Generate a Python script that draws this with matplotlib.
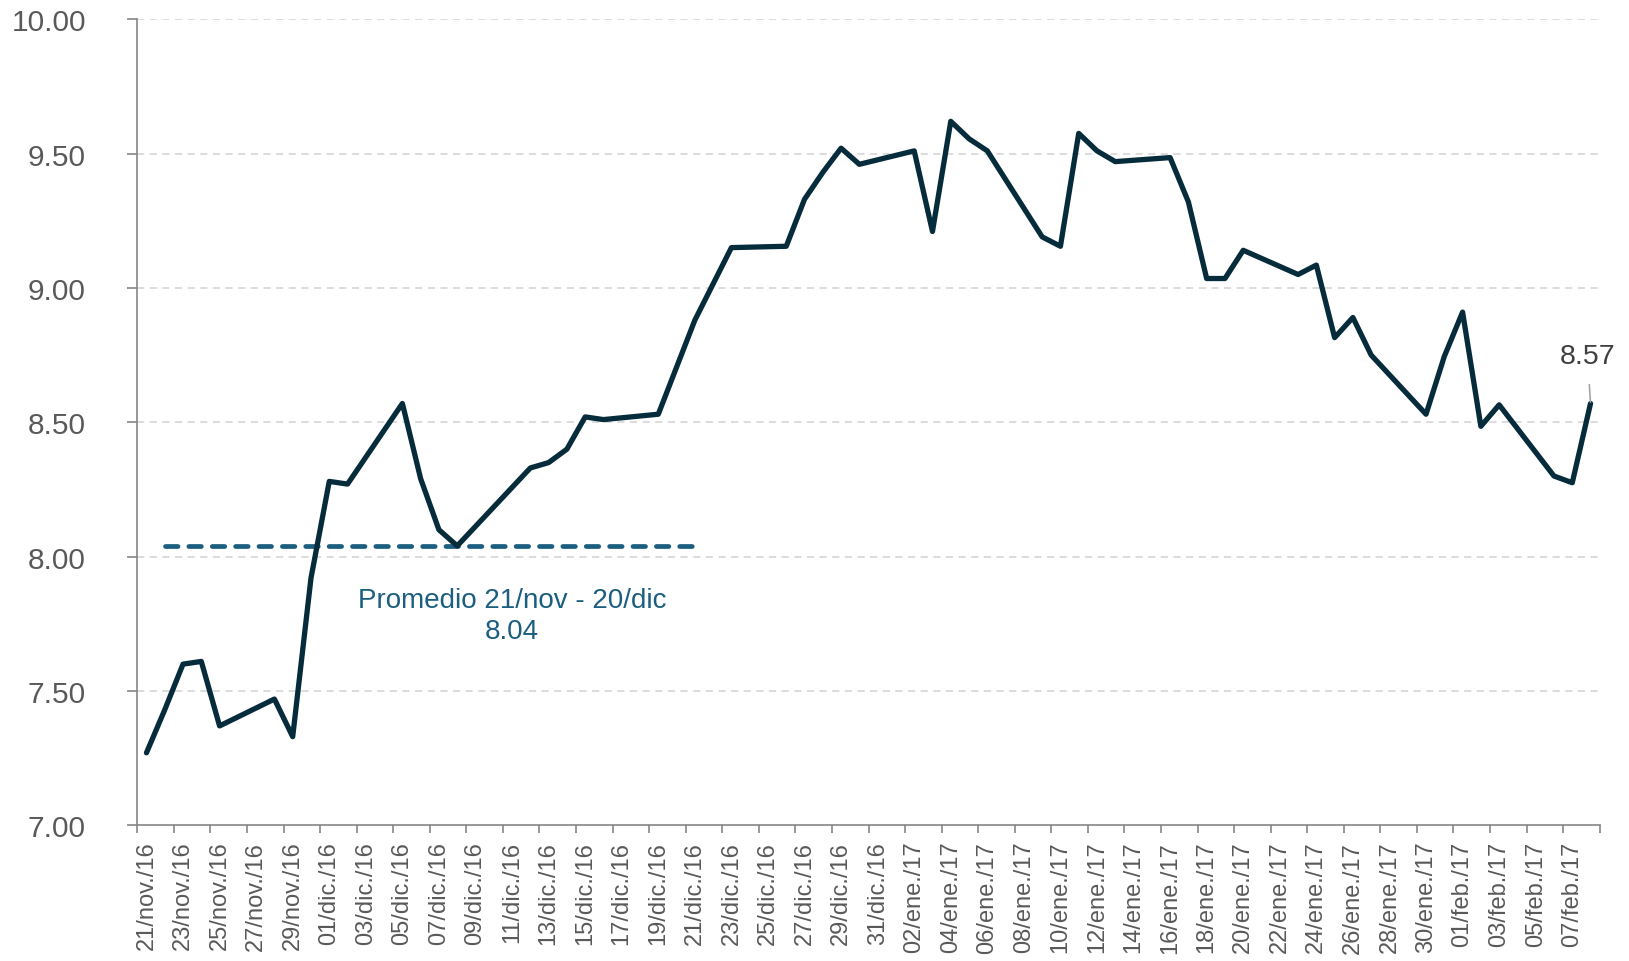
import matplotlib
matplotlib.use("Agg")
import matplotlib.pyplot as plt
import matplotlib.dates as mdates
import numpy as np
import pandas as pd

plt.rcParams['font.family'] = ['Liberation Sans', 'DejaVu Sans']

# Tipo de cambio diario (solo dias habiles)
fechas = ["2016-11-21", "2016-11-22", "2016-11-23", "2016-11-24", "2016-11-25",
          "2016-11-28", "2016-11-29", "2016-11-30", "2016-12-01", "2016-12-02",
          "2016-12-05", "2016-12-06", "2016-12-07", "2016-12-08",
          "2016-12-12", "2016-12-13", "2016-12-14", "2016-12-15", "2016-12-16",
          "2016-12-19", "2016-12-21", "2016-12-23",
          "2016-12-26", "2016-12-27", "2016-12-28", "2016-12-29", "2016-12-30",
          "2017-01-02", "2017-01-03", "2017-01-04", "2017-01-05", "2017-01-06",
          "2017-01-09", "2017-01-10", "2017-01-11", "2017-01-12", "2017-01-13",
          "2017-01-16", "2017-01-17", "2017-01-18", "2017-01-19", "2017-01-20",
          "2017-01-23", "2017-01-24", "2017-01-25", "2017-01-26", "2017-01-27",
          "2017-01-30", "2017-01-31", "2017-02-01", "2017-02-02", "2017-02-03",
          "2017-02-06", "2017-02-07", "2017-02-08"]
valores = [7.27, 7.43, 7.60, 7.61, 7.37,
           7.47, 7.33, 7.92, 8.28, 8.27,
           8.57, 8.29, 8.10, 8.04,
           8.33, 8.35, 8.40, 8.52, 8.51,
           8.53, 8.88, 9.15,
           9.155, 9.33, 9.43, 9.52, 9.46,
           9.51, 9.21, 9.62, 9.555, 9.51,
           9.19, 9.155, 9.575, 9.51, 9.47,
           9.485, 9.32, 9.035, 9.035, 9.14,
           9.05, 9.085, 8.815, 8.89, 8.75,
           8.53, 8.745, 8.91, 8.485, 8.565,
           8.30, 8.275, 8.57]

# promedio del periodo 21/nov - 20/dic
promedio_fechas = ["2016-11-22", "2016-12-21"]
promedio_valor = 8.04
promedio_texto = "Promedio 21/nov - 20/dic\n8.04"

inicio = "2016-11-21"
fin = "2017-02-08"
meses = {11: "nov", 12: "dic", 1: "ene", 2: "feb"}

y_ticks = [7.00, 7.50, 8.00, 8.50, 9.00, 9.50, 10.00]

fechas = pd.to_datetime(fechas)
promedio_fechas = pd.to_datetime(promedio_fechas)

fig = plt.figure(figsize=(16.29, 9.62), dpi=100)
ax = fig.add_axes([0.0843, 0.1410, 0.8977, 0.8380])

# grid
for v in y_ticks[1:]:
    ax.axhline(v, color="#D9D9D9", lw=1.3, ls=(0, (4, 3)), zorder=0)

ax.plot(fechas, valores, color="#062B3B", lw=3.8, solid_joinstyle="round",
        solid_capstyle="round", zorder=3)

ax.plot(promedio_fechas, [promedio_valor] * 2, color="#1B5E80", lw=3.4,
        dashes=(2.65, 2.3), dash_capstyle="round", zorder=2)

# ejes
d0 = mdates.date2num(pd.Timestamp(inicio)) - 0.5
d1 = mdates.date2num(pd.Timestamp(fin)) + 0.5
ax.set_xlim(d0, d1)
ax.set_ylim(7.0, 10.0)

ax.set_xticks(np.arange(d0, d1 + 0.01, 2))
ax.set_xticklabels([])
dias = pd.date_range(inicio, fin, freq="2D")
ax.set_xticks(mdates.date2num(dias), minor=True)
ax.set_xticklabels([f"{d.day:02d}/{meses[d.month]}./{d.year % 100}" for d in dias],
                   minor=True, rotation=90, fontsize=17, color="#595959")
ax.tick_params(axis="x", which="major", length=6, width=1.2, color="#868686",
               direction="out")
ax.tick_params(axis="x", which="minor", length=0, pad=11)

ax.set_yticks(y_ticks)
ax.set_yticklabels([f"{v:.2f}" for v in y_ticks], fontsize=21.5, color="#595959")
ax.tick_params(axis="y", length=7, width=1.2, color="#868686", pad=30)

for s in ["top", "right"]:
    ax.spines[s].set_visible(False)
for s in ["left", "bottom"]:
    ax.spines[s].set_color("#868686")
    ax.spines[s].set_linewidth(1.2)

# anotaciones
ax.text(pd.Timestamp("2016-12-11"), 7.78, promedio_texto, ha="center", va="center",
        fontsize=20, color="#1B5E80", linespacing=1.25)

ultimo = fechas[-1]
ax.annotate(f"{valores[-1]:.2f}", xy=(ultimo, valores[-1]),
            xytext=(ultimo - pd.Timedelta(hours=4), 8.745),
            ha="center", va="center", fontsize=20.5, color="#404040",
            arrowprops=dict(arrowstyle="-", color="#A6A6A6", lw=1.2,
                            shrinkA=9, shrinkB=1))

fig.savefig("out.png", dpi=100)
